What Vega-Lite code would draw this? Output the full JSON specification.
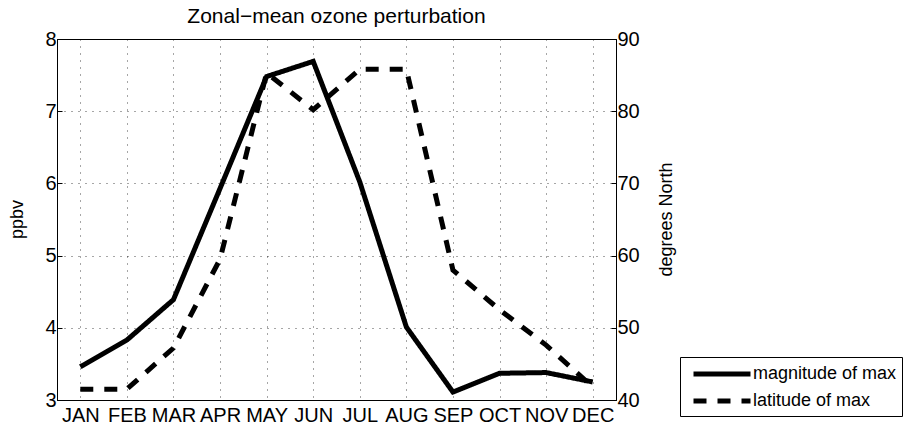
{
  "$schema": "https://vega.github.io/schema/vega-lite/v6.json",
  "width": 559,
  "height": 361,
  "autosize": {"type": "none"},
  "padding": {"left": 57, "top": 39, "right": 292, "bottom": 24},
  "background": "white",
  "title": {"text": "Zonal−mean ozone perturbation", "fontSize": 21, "fontWeight": "normal", "font": "Liberation Sans", "color": "black", "anchor": "middle", "offset": 2},
  "data": {"values": [
    {"month": "JAN", "series": "magnitude of max", "value": 3.46},
    {"month": "FEB", "series": "magnitude of max", "value": 3.83},
    {"month": "MAR", "series": "magnitude of max", "value": 4.39},
    {"month": "APR", "series": "magnitude of max", "value": 5.93},
    {"month": "MAY", "series": "magnitude of max", "value": 7.48},
    {"month": "JUN", "series": "magnitude of max", "value": 7.69},
    {"month": "JUL", "series": "magnitude of max", "value": 6.02},
    {"month": "AUG", "series": "magnitude of max", "value": 4.01},
    {"month": "SEP", "series": "magnitude of max", "value": 3.11},
    {"month": "OCT", "series": "magnitude of max", "value": 3.37},
    {"month": "NOV", "series": "magnitude of max", "value": 3.38},
    {"month": "DEC", "series": "magnitude of max", "value": 3.25},
    {"month": "JAN", "series": "latitude of max", "value": 41.5},
    {"month": "FEB", "series": "latitude of max", "value": 41.5},
    {"month": "MAR", "series": "latitude of max", "value": 47.2},
    {"month": "APR", "series": "latitude of max", "value": 59.5},
    {"month": "MAY", "series": "latitude of max", "value": 85.3},
    {"month": "JUN", "series": "latitude of max", "value": 80.2},
    {"month": "JUL", "series": "latitude of max", "value": 85.8},
    {"month": "AUG", "series": "latitude of max", "value": 85.8},
    {"month": "SEP", "series": "latitude of max", "value": 58.0},
    {"month": "OCT", "series": "latitude of max", "value": 52.5},
    {"month": "NOV", "series": "latitude of max", "value": 47.6},
    {"month": "DEC", "series": "latitude of max", "value": 41.8}
  ]},
  "encoding": {
    "x": {
      "field": "month", "type": "ordinal",
      "scale": {"type": "point", "domain": ["JAN","FEB","MAR","APR","MAY","JUN","JUL","AUG","SEP","OCT","NOV","DEC"], "padding": 0.5},
      "axis": {"title": null, "labelAngle": 0, "labelFontSize": 20, "labelPadding": 5, "tickSize": 0, "grid": true}
    },
    "strokeDash": {
      "field": "series", "type": "nominal",
      "scale": {"domain": ["magnitude of max", "latitude of max"], "range": [[1, 0], [13, 11]]},
      "legend": {
        "title": null, "orient": "none", "legendX": 623, "legendY": 318,
        "symbolType": "M-3,0H3", "symbolSize": 361, "symbolStrokeWidth": 5, "symbolStrokeColor": "black", "symbolFillColor": "transparent",
        "symbolOffset": 25, "labelOffset": 19,
        "labelFontSize": 18, "labelColor": "black",
        "padding": 5, "rowPadding": 5,
        "strokeColor": "black", "fillColor": "white", "cornerRadius": 0
      }
    }
  },
  "layer": [
    {
      "transform": [{"filter": "datum.series === 'magnitude of max'"}],
      "mark": {"type": "line", "color": "black", "strokeWidth": 5, "strokeCap": "butt", "strokeJoin": "miter"},
      "encoding": {
        "y": {"field": "value", "type": "quantitative",
          "scale": {"domain": [3, 8], "nice": false, "zero": false},
          "axis": {"title": "ppbv", "values": [3,4,5,6,7,8], "orient": "left", "labelFontSize": 20, "labelPadding": 6, "tickSize": -5, "grid": true,
            "titleFontSize": 18, "titleAngle": -90, "titleX": -40, "titleY": 180, "titleAlign": "center", "titleBaseline": "middle"}}
      }
    },
    {
      "transform": [{"filter": "datum.series === 'latitude of max'"}],
      "mark": {"type": "line", "color": "black", "strokeWidth": 5, "strokeCap": "butt", "strokeJoin": "miter"},
      "encoding": {
        "y": {"field": "value", "type": "quantitative",
          "scale": {"domain": [40, 90], "nice": false, "zero": false},
          "axis": {"title": "degrees North", "values": [40,50,60,70,80,90], "orient": "right", "labelFontSize": 20, "labelPadding": 6, "tickSize": -5, "grid": false,
            "titleFontSize": 18, "titleAngle": -90, "titleX": 50, "titleY": 180, "titleAlign": "center", "titleBaseline": "middle"}}
      }
    }
  ],
  "resolve": {"scale": {"y": "independent"}},
  "config": {
    "font": "Liberation Sans",
    "view": {"stroke": "black", "strokeWidth": 1},
    "axis": {
      "domainColor": "black", "domainWidth": 1, "tickColor": "black", "labelColor": "black", "titleColor": "black",
      "titleFontWeight": "normal", "gridColor": "black", "gridOpacity": 0.7, "gridDash": [1, 6], "gridWidth": 1
    }
  }
}
